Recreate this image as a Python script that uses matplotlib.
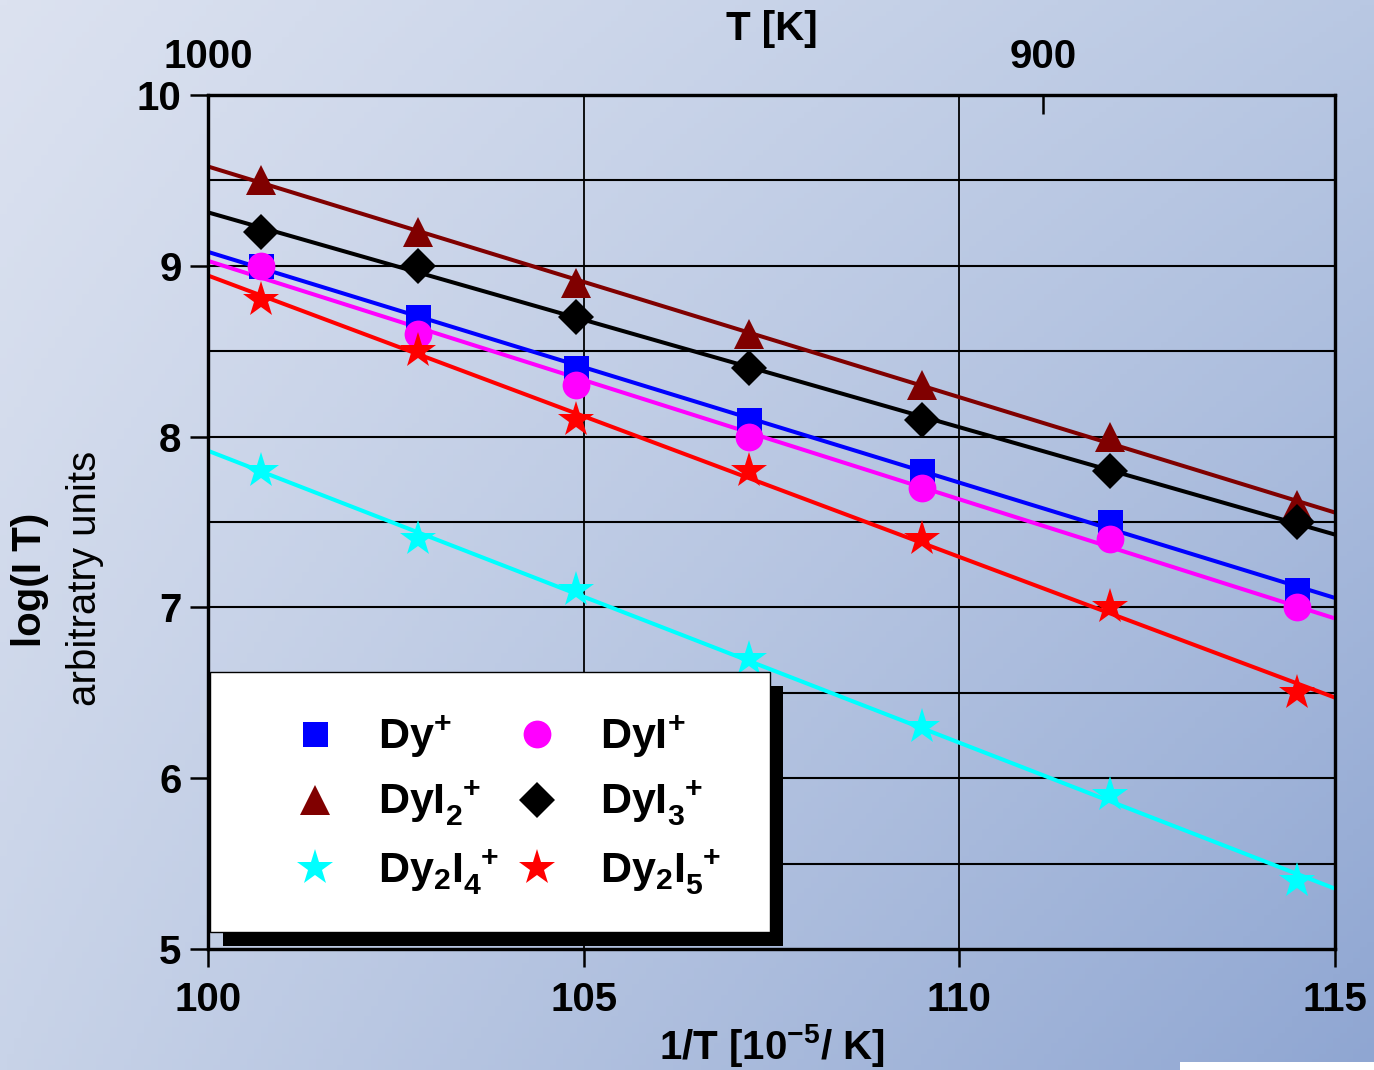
import numpy as np
import matplotlib
matplotlib.use("Agg")
import matplotlib.pyplot as plt
from matplotlib.patches import Rectangle

plt.rcParams['font.family'] = ['Liberation Sans', 'DejaVu Sans']
plt.rcParams['font.weight'] = 'bold'
plt.rcParams['axes.labelweight'] = 'bold'
plt.rcParams['mathtext.fontset'] = 'custom'
plt.rcParams['mathtext.rm'] = 'Liberation Sans:bold'
plt.rcParams['mathtext.bf'] = 'Liberation Sans:bold'
plt.rcParams['mathtext.default'] = 'rm'

##  data
inv_T = [100.7, 102.8, 104.9, 107.2, 109.5, 112.0, 114.5]   # 1/T [1e-5 / K]
dy = [9.0, 8.7, 8.4, 8.1, 7.8, 7.5, 7.1]
dyi = [9.0, 8.6, 8.3, 8.0, 7.7, 7.4, 7.0]
dyi2 = [9.5, 9.2, 8.9, 8.6, 8.3, 8.0, 7.6]
dyi3 = [9.2, 9.0, 8.7, 8.4, 8.1, 7.8, 7.5]
dy2i4 = [7.8, 7.4, 7.1, 6.7, 6.3, 5.9, 5.4]
dy2i5 = [8.8, 8.5, 8.1, 7.8, 7.4, 7.0, 6.5]
top_T = [1000, 900]

series = [
    (dy, 'Dy$^{+}$', 's', '#0000ff', 18),
    (dyi2, 'DyI$_{2}^{\\ +}$', '^', '#800000', 22),
    (dy2i4, 'Dy$_{2}$I$_{4}^{\\ +}$', '*', '#00ffff', 27),
    (dyi, 'DyI$^{+}$', 'o', '#ff00ff', 20),
    (dyi3, 'DyI$_{3}^{\\ +}$', 'D', '#000000', 18),
    (dy2i5, 'Dy$_{2}$I$_{5}^{\\ +}$', '*', '#ff0000', 27),
]

W, H = 1374, 1070
fig = plt.figure(figsize=(W / 100, H / 100), dpi=100)

##  background gradient
bg = fig.add_axes([0, 0, 1, 1], zorder=-10)
c_tl = np.array([220, 226, 240]) / 255
c_tr = np.array([185, 200, 227]) / 255
c_bl = np.array([200, 211, 232]) / 255
c_br = np.array([143, 166, 210]) / 255
u = np.linspace(0, 1, 200)[None, :, None]
v = np.linspace(0, 1, 200)[:, None, None]
img = (1 - v) * ((1 - u) * c_tl + u * c_tr) + v * ((1 - u) * c_bl + u * c_br)
bg.imshow(img, aspect='auto', extent=[0, 1, 0, 1])
bg.set_axis_off()
fig.patches.append(Rectangle((1180 / W, 0), 194 / W, 8 / H, transform=fig.transFigure,
                             facecolor='white', edgecolor='none', zorder=-5))

ax = fig.add_axes([208 / W, 1 - 949 / H, 1127 / W, 854 / H])
ax.patch.set_alpha(0)

xfit = np.array([100, 115])
for yv, lab, mk, col, ms in series:
    p = np.polyfit(inv_T, yv, 1)
    ax.plot(xfit, np.polyval(p, xfit), '-', color=col, lw=2.9, zorder=3)
    ax.plot(inv_T, yv, linestyle='none', marker=mk, color=col, ms=ms,
            markeredgewidth=0, zorder=4, label=lab)

ax.set_xlim(100, 115)
ax.set_ylim(5, 10)
ax.set_xticks([100, 105, 110, 115])
ax.set_yticks([5, 6, 7, 8, 9, 10])
for yy in np.arange(5.5, 10, 0.5):
    ax.axhline(yy, color='black', lw=1.5, zorder=1)
for xx in [105, 110]:
    ax.axvline(xx, color='black', lw=1.3, zorder=1)
for s in ax.spines.values():
    s.set_linewidth(2.3)
ax.tick_params(axis='both', direction='out', length=13, width=1.8, labelsize=29)
ax.tick_params(axis='y', pad=6)
ax.tick_params(axis='x', pad=10)
ax.set_xlabel('1/T [10$^{-5}$/ K]', fontsize=29, fontweight='bold', labelpad=2)

top = ax.twiny()
top.set_xlim(ax.get_xlim())
top.set_xticks([1e5 / t for t in top_T])
top.set_xticklabels([str(t) for t in top_T])
top.tick_params(axis='x', direction='in', length=14, width=1.8, labelsize=29, pad=14)
top.set_xlabel('T [K]', fontsize=29, fontweight='bold', labelpad=-2)
for s in top.spines.values():
    s.set_linewidth(2.3)

fig.text(30 / W, 1 - 580 / H, 'log(I T)', rotation=90, fontsize=29, fontweight='bold',
         ha='center', va='center')
fig.text(85 / W, 1 - 578 / H, 'arbitratry units', rotation=90, fontsize=29,
         fontweight='normal', ha='center', va='center')

##  legend box with black shadow
lx0, lx1 = (210 - 208) / 1127, (770 - 208) / 1127
ly0, ly1 = (949 - 932) / 854, (949 - 672) / 854
ax.add_patch(Rectangle((lx0 + 13 / 1127, ly0 - 14 / 854), lx1 - lx0, ly1 - ly0,
                       transform=ax.transAxes, facecolor='black', edgecolor='none',
                       zorder=5, clip_on=False))
ax.add_patch(Rectangle((lx0, ly0), lx1 - lx0, ly1 - ly0, transform=ax.transAxes,
                       facecolor='white', edgecolor='black', lw=1, zorder=6))
leg = ax.legend(ncol=2, loc='center left',
                bbox_to_anchor=((296 - 208) / 1127, (949 - 805) / 854),
                frameon=False, fontsize=31, handlelength=0.9, handletextpad=1.0,
                columnspacing=0.45, labelspacing=0.45, borderpad=0, borderaxespad=0,
                markerscale=1.0)
leg.set_zorder(7)

fig.savefig('out.png', dpi=100)
